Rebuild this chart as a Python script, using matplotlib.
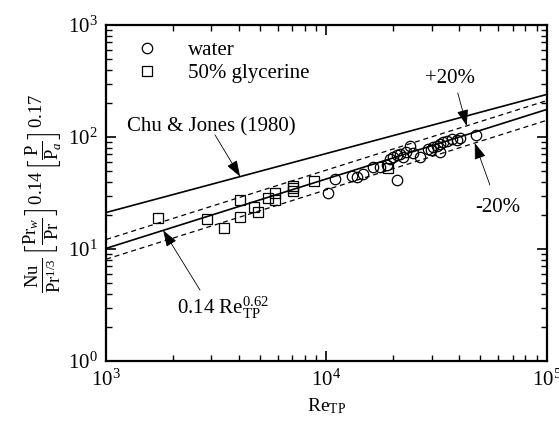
import numpy as np
import matplotlib
matplotlib.use("Agg")
import matplotlib.pyplot as plt

plt.rcParams['font.family'] = ['Liberation Serif', 'DejaVu Serif']
plt.rcParams['mathtext.fontset'] = 'custom'
plt.rcParams['mathtext.rm'] = 'Liberation Serif'
plt.rcParams['mathtext.it'] = 'Liberation Serif:italic'
plt.rcParams['mathtext.bf'] = 'Liberation Serif:bold'

# ---- data ----
water_re = [10160, 10930, 13050, 13750, 14640, 16250, 17480, 18810, 20880, 19410,
            20030, 20880, 21540, 22230, 22940, 23910, 24680, 26550, 28860, 29780,
            30410, 31700, 32720, 32720, 33760, 35200, 37080, 39080, 40310, 47640]
water_nu = [31.6, 42.2, 44.9, 43.9, 46.7, 54.0, 54.0, 56.2, 41.3, 63.6,
            66.3, 69.1, 70.5, 66.3, 73.5, 83.1, 72.0, 66.3, 78.1, 76.5,
            81.4, 83.1, 73.5, 86.6, 90.2, 92.1, 96.0, 94.0, 98.0, 104.2]

gly_re = [1726, 2877, 3440, 4055, 4055, 4690, 4909, 5447, 5839, 5839,
          7063, 7063, 7063, 8771, 19000]
gly_nu = [18.8, 18.5, 15.3, 27.4, 19.4, 23.9, 21.5, 28.4, 31.4, 27.4,
          36.7, 34.8, 33.2, 40.5, 52.9]

line_re = [1e3, 1e5]
chu_jones = [21.2, 240.0]
fit_coef = 0.14
fit_exp = 0.62
band = [1.2, 0.8]

fig = plt.figure(figsize=(5.59, 4.21), dpi=100)
ax = fig.add_axes([0.19, 0.1425, 0.788, 0.798])

re_arr = np.array(line_re)
fit = fit_coef * re_arr ** fit_exp
ax.plot(re_arr, chu_jones, color='black', lw=1.2)
ax.plot(re_arr, fit, color='black', lw=1.2)
for b in band:
    ax.plot(re_arr, fit * b, color='black', lw=0.9, ls=(0, (4, 3)))

ax.plot(water_re, water_nu, 'o', mfc='none', mec='black', ms=7.5, mew=0.9,
        ls='none', label='water')
ax.plot(gly_re, gly_nu, 's', mfc='none', mec='black', ms=6.5, mew=0.9,
        ls='none', label='50% glycerine')

ax.set_xscale('log')
ax.set_yscale('log')
ax.set_xlim(1e3, 1e5)
ax.set_ylim(1e0, 1e3)

for s in ax.spines.values():
    s.set_linewidth(1.6)
ax.tick_params(which='both', direction='in', top=True, right=True, labelsize=15)
ax.tick_params(which='major', length=7, width=1.2, pad=6)
ax.tick_params(which='minor', length=4, width=1.0)

leg = ax.legend(loc='upper left', frameon=False, fontsize=15, handlelength=1.0,
                handletextpad=1.5, borderaxespad=0.2, labelspacing=0.15,
                bbox_to_anchor=(0.04, 0.99))

ax.set_xlabel(r'Re$_{\mathrm{TP}}$', fontsize=14, labelpad=4)
ax.set_ylabel(r'$\frac{\mathrm{Nu}}{\mathrm{Pr}^{1/3}}\left[\frac{\mathrm{Pr}_w}{\mathrm{Pr}}\right]^{0.14}\left[\frac{\mathrm{P}}{\mathrm{P}_a}\right]^{0.17}$',
              fontsize=19, labelpad=2)

arrow_kw = dict(arrowstyle='-|>,head_length=1.0,head_width=0.35', color='black',
                lw=0.6, shrinkA=0, shrinkB=0)

def fitv(r):
    return fit_coef * r ** fit_exp

def chuv(r):
    k = np.log(chu_jones[1] / chu_jones[0]) / np.log(line_re[1] / line_re[0])
    return chu_jones[0] * (r / line_re[0]) ** k

ax.text(0.238, 0.696, 'Chu & Jones (1980)', transform=ax.transAxes, fontsize=15,
        ha='center', va='center')
ax.annotate('', xy=(4055, chuv(4055)), xycoords='data',
            xytext=(0.247, 0.673), textcoords='axes fraction', arrowprops=arrow_kw)

ax.text(0.780, 0.842, '+20%', transform=ax.transAxes, fontsize=15,
        ha='center', va='center')
ax.annotate('', xy=(43350, fitv(43350) * band[0]), xycoords='data',
            xytext=(0.798, 0.798), textcoords='axes fraction', arrowprops=arrow_kw)

ax.text(0.889, 0.458, '-20%', transform=ax.transAxes, fontsize=15,
        ha='center', va='center')
ax.annotate('', xy=(47160, fitv(47160) * band[1]), xycoords='data',
            xytext=(0.871, 0.524), textcoords='axes fraction', arrowprops=arrow_kw)

ax.text(0.161, 0.158, r'0.14 Re$_{\mathrm{TP}}^{0.62}$', transform=ax.transAxes,
        fontsize=15, ha='left', va='center')
ax.annotate('', xy=(1814, fitv(1814)), xycoords='data',
            xytext=(0.213, 0.211), textcoords='axes fraction', arrowprops=arrow_kw)

fig.savefig('out.png', dpi=100)
